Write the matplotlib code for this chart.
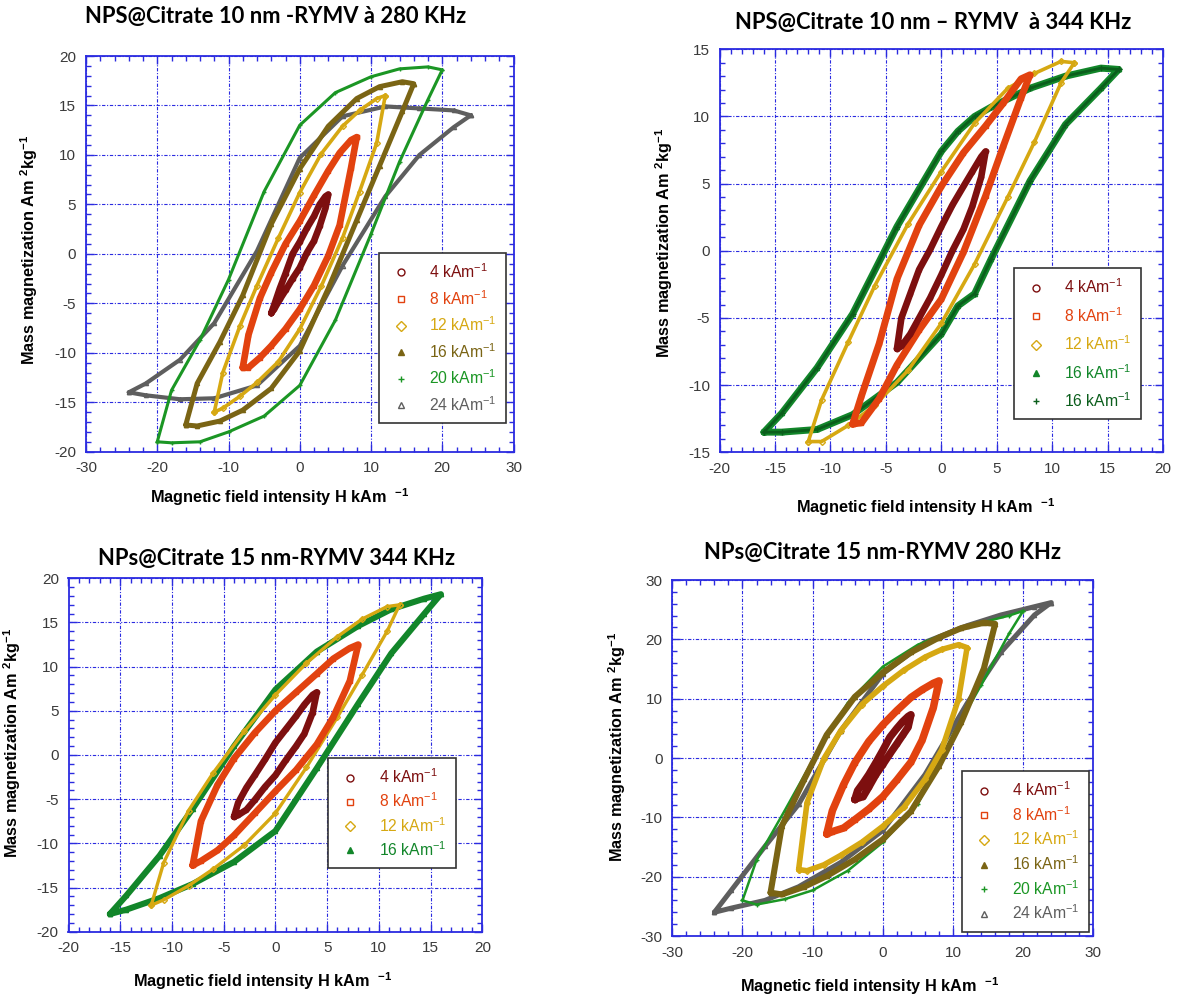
import matplotlib
matplotlib.use('Agg')
import matplotlib.pyplot as plt
from matplotlib.lines import Line2D
from matplotlib.ticker import MultipleLocator

plt.rcParams['font.family'] = ['Liberation Sans', 'DejaVu Sans']
plt.rcParams['mathtext.default'] = 'regular'
plt.rcParams['axes.unicode_minus'] = False

# ---------------- data ----------------
# field sampling points (kA/m) for each field amplitude
H4 = [-4, -3.6, -2.8, -2, -1, 0, 1, 2, 2.8, 3.6, 4]
H8 = [-8, -7.2, -5.6, -4, -2, 0, 2, 4, 5.6, 7.2, 8]
H12 = [-12, -10.8, -8.4, -6, -3, 0, 3, 6, 8.4, 10.8, 12]
H16 = [-16, -14.4, -11.2, -8, -4, 0, 4, 8, 11.2, 14.4, 16]
H16b = [-16, -14.4, -11.2, -8, -4, 0, 1.5, 3, 4.5, 8, 11.2, 14.4, 16]
H20 = [-20, -18, -14, -10, -5, 0, 5, 10, 14, 18, 20]
H24 = [-24, -21.6, -16.8, -12, -6, 0, 6, 12, 16.8, 21.6, 24]

# Panel 1 : NPS@Citrate 10 nm - 280 kHz  (up = descending branch, dn = ascending branch)
p1_up4 = [-6, -5.2, -3.5, -2, 0, 1.2, 2.6, 3.8, 5, 5.8, 6]
p1_dn4 = [-6, -5.6, -4.6, -3.7, -2.5, -1.4, 0.1, 1.3, 2.8, 4.6, 6]
p1_up8 = [-11.5, -8.2, -4.5, -1.9, 1.0, 3.3, 5.9, 8.4, 10.2, 11.5, 11.8]
p1_dn8 = [-11.5, -11.5, -10.5, -9.3, -7.6, -5.6, -3.2, -0.2, 2.9, 8.7, 11.8]
p1_up12 = [-16, -12, -7.3, -3.2, 1.6, 6.2, 10.1, 12.9, 14.5, 15.7, 16]
p1_dn12 = [-16, -15.6, -14.4, -13, -10.9, -7.6, -3.3, 1.6, 6.3, 11.2, 16]
p1_up16 = [-17.3, -13.1, -8.9, -4.2, 3.0, 8.6, 12.9, 15.7, 16.9, 17.4, 17.2]
p1_dn16 = [-17.3, -17.4, -16.9, -15.8, -13.6, -9.8, -3.5, 3.4, 8.9, 14.4, 17.2]
p1_up20 = [-19, -13.8, -8.7, -2.6, 6.3, 13, 16.3, 17.9, 18.7, 18.9, 18.6]
p1_dn20 = [-19, -19.1, -19, -18, -16.4, -13.3, -6.7, 2, 9.3, 15.6, 18.6]
p1_up24 = [-14, -13.1, -10.7, -7.0, 0.3, 9.7, 13.9, 14.9, 14.7, 14.5, 14]
p1_dn24 = [-14, -14.3, -14.7, -14.6, -13.3, -9.3, -1.2, 5.8, 10, 12.8, 14]

# Panel 2 : NPS@Citrate 10 nm - 344 kHz
p2_up4 = [-7.3, -5.0, -3.2, -1.4, 0.1, 1.8, 3.4, 4.8, 5.9, 7.0, 7.4]
p2_dn4 = [-7.3, -7.1, -6.2, -5.0, -3.5, -1.8, 0.0, 1.6, 3.3, 5.5, 7.4]
p2_up8 = [-12.9, -10.8, -6.9, -2.1, 1.9, 4.8, 7.3, 9.3, 11.0, 12.8, 13.1]
p2_dn8 = [-12.9, -12.8, -11.0, -8.5, -5.9, -3.6, -0.1, 4.1, 7.8, 11.4, 13.1]
p2_up12 = [-14.2, -11.1, -6.8, -2.6, 2.0, 5.9, 9.5, 12.1, 13.2, 14.1, 14.0]
p2_dn12 = [-14.2, -14.2, -13.0, -11.5, -8.9, -5.4, -1.0, 4.0, 8.1, 12.5, 14.0]
p2_up16 = [-13.5, -12.1, -8.7, -4.7, 1.8, 7.4, 8.9, 10.0, 10.7, 12.1, 13.0, 13.6, 13.5]
p2_dn16 = [-13.5, -13.5, -13.3, -12.2, -9.8, -6.2, -4.1, -3.2, -0.6, 5.2, 9.4, 12.1, 13.5]

# Panel 3 : NPs@Citrate 15 nm - 344 kHz
p3_up4 = [-7.0, -5.4, -3.7, -2.3, -0.5, 1.4, 2.9, 4.4, 5.7, 6.8, 7.1]
p3_dn4 = [-7.0, -6.8, -6.2, -5.1, -3.6, -2.3, -0.6, 1.0, 2.4, 4.8, 7.1]
p3_up8 = [-12.5, -7.5, -3.4, -0.4, 2.5, 5.0, 7.1, 9.2, 10.9, 12.1, 12.5]
p3_dn8 = [-12.5, -12.0, -10.8, -9.1, -6.6, -4.1, -1.7, 1.2, 4.3, 8.4, 12.5]
p3_up12 = [-17.0, -12.2, -6.3, -2.0, 2.7, 6.8, 10.4, 13.4, 15.4, 16.8, 17.0]
p3_dn12 = [-17.0, -16.4, -14.8, -12.9, -10.2, -6.6, -1.4, 4.3, 9.1, 14.0, 17.0]
p3_up16 = [-18.0, -15.9, -11.4, -6.1, 1.0, 7.4, 11.7, 14.6, 16.5, 17.7, 18.2]
p3_dn16 = [-18.0, -17.5, -16.2, -14.6, -12.1, -8.6, -1.5, 5.8, 11.5, 16.0, 18.2]

# Panel 4 : NPs@Citrate 15 nm - 280 kHz
p4_up4 = [-7.0, -5.5, -4.2, -2.8, -0.8, 1.3, 3.5, 5.0, 6.1, 7.0, 7.3]
p4_dn4 = [-7.0, -6.8, -6.5, -4.9, -2.8, -1.1, 0.7, 2.4, 3.8, 5.2, 7.3]
p4_up8 = [-12.8, -8.9, -4.5, -0.8, 2.8, 5.6, 8.0, 10.2, 11.5, 12.6, 13.0]
p4_dn8 = [-12.8, -12.4, -11.8, -10.4, -8.6, -6.5, -3.7, -0.7, 3.0, 8.5, 13.0]
p4_up12 = [-18.8, -7.5, -0.1, 4.6, 9.0, 12.1, 14.8, 17.0, 18.3, 19.1, 18.6]
p4_dn12 = [-18.8, -19.0, -18.0, -16.4, -14.2, -11.5, -8.3, -3.6, 1.4, 10.0, 18.6]
p4_up16 = [-22.7, -11.5, -3.6, 3.9, 10.3, 14.4, 17.8, 20.3, 21.9, 22.8, 22.6]
p4_dn16 = [-22.7, -23.0, -21.7, -19.9, -17.1, -13.7, -9.0, -1.3, 6.1, 15.1, 22.6]
p4_up20 = [-24.0, -17.2, -8.9, -0.4, 9.3, 15.4, 19.1, 21.5, 22.8, 24.0, 24.8]
p4_dn20 = [-24.0, -24.7, -23.8, -22.3, -19.0, -14.2, -7.7, 3.9, 12.3, 21.0, 24.8]
p4_up24 = [-26.0, -22.3, -14.9, -7.8, 4.6, 14.2, 19.5, 22.3, 24.1, 25.5, 26.2]
p4_dn24 = [-26.0, -25.3, -24.0, -21.7, -17.6, -12.2, -2.8, 9.2, 17.8, 24.1, 26.2]

labels = ['4 kAm$^{-1}$', '8 kAm$^{-1}$', '12 kAm$^{-1}$', '16 kAm$^{-1}$',
          '20 kAm$^{-1}$', '24 kAm$^{-1}$']
titles = ['NPS@Citrate 10 nm -RYMV à 280 KHz',
          'NPS@Citrate 10 nm \u2013 RYMV  à 344 KHz',
          'NPs@Citrate 15 nm-RYMV 344 KHz',
          'NPs@Citrate 15 nm-RYMV 280 KHz']
xlabel_text = 'Magnetic field intensity H kAm  $^{-1}$'
ylabel_text = 'Mass magnetization Am $^{2}$kg$^{-1}$'

# ---------------- styles ----------------
W, Hpx = 1179, 998
BLUE = '#2b2be0'
C4 = '#7d0f0f'
C8 = '#e2420f'
C12 = '#d6a812'
C16 = '#7a6414'
C20 = '#1b9624'
C24 = '#5e5e5e'
C16g = '#12862a'
C16d = '#0b5e1c'

M = {'4': ('o', True), '8': ('s', True), '12': ('D', True),
     '16': ('^', False), '20': ('+', False), '24': ('^', True)}

fig = plt.figure(figsize=(W / 100, Hpx / 100), dpi=100)


def px_axes(l, t, r, b):
    return fig.add_axes([l / W, 1 - b / Hpx, (r - l) / W, (b - t) / Hpx])


def style(ax, lim_x, lim_y, xmaj, xmin, ymaj, ymin):
    ax.set_xlim(lim_x)
    ax.set_ylim(lim_y)
    ax.xaxis.set_major_locator(MultipleLocator(xmaj))
    ax.xaxis.set_minor_locator(MultipleLocator(xmin))
    ax.yaxis.set_major_locator(MultipleLocator(ymaj))
    ax.yaxis.set_minor_locator(MultipleLocator(ymin))
    ax.set_axisbelow(True)
    ax.grid(True, which='major', color=BLUE, ls=(0, (3, 1.5, 1, 1.5)), lw=0.8)
    for s in ax.spines.values():
        s.set_color(BLUE)
        s.set_linewidth(1.3)
    ax.tick_params(which='both', direction='in', top=True, right=True,
                   color=BLUE, width=1)
    ax.tick_params(which='major', length=6, labelsize=11,
                   labelcolor='#3a3a3a', pad=7)
    ax.tick_params(which='minor', length=3.5)


def loop(ax, hs, up, dn, color, lw, key, ms=3):
    xs = list(hs) + list(hs[::-1])
    ys = list(dn) + list(up[::-1])
    mk, hollow = M[key]
    ax.plot(xs, ys, color=color, lw=lw, solid_joinstyle='round',
            solid_capstyle='round', marker=mk, ms=ms,
            mfc='none' if hollow else color, mec=color, mew=1)


def legend(ax, entries, x0, ytop, fs, spacing):
    handles = []
    for lab, col, key in entries:
        mk, hollow = M[key]
        handles.append(Line2D([], [], ls='none', marker=mk, ms=5, color=col,
                              mfc='none' if hollow else col, mec=col, mew=1,
                              label=lab))
    lg = ax.legend(handles=handles, loc='upper left', bbox_to_anchor=(x0, ytop),
                   borderaxespad=0, frameon=True, fancybox=False,
                   edgecolor='#333333', framealpha=1, fontsize=fs,
                   labelspacing=spacing, handletextpad=1.0, handlelength=1.6,
                   borderpad=0.6)
    lg.get_frame().set_linewidth(1.2)
    for t, (lab, col, key) in zip(lg.get_texts(), entries):
        t.set_color(col)
    return lg


def axis_labels(xl_c, xl_y, yl_x, yl_c):
    fig.text(xl_c / W, 1 - xl_y / Hpx, xlabel_text,
             ha='center', va='center', fontsize=11.7, fontweight='bold')
    fig.text(yl_x / W, 1 - yl_c / Hpx, ylabel_text,
             ha='center', va='center', fontsize=11.7, fontweight='bold',
             rotation=90)


TFONT = ['Lato', 'DejaVu Sans']
TSIZE = 15.8

# ---------------- panel 1 ----------------
ax1 = px_axes(86, 56, 513.5, 451.7)
style(ax1, (-30, 30), (-20, 20), 10, 2, 5, 1)
loop(ax1, H24, p1_up24, p1_dn24, C24, 3.0, '24')
loop(ax1, H20, p1_up20, p1_dn20, C20, 2.2, '20')
loop(ax1, H16, p1_up16, p1_dn16, C16, 3.6, '16')
loop(ax1, H12, p1_up12, p1_dn12, C12, 2.6, '12')
loop(ax1, H8, p1_up8, p1_dn8, C8, 4.8, '8')
loop(ax1, H4, p1_up4, p1_dn4, C4, 4.8, '4')
legend(ax1, [(labels[0], C4, '4'), (labels[1], C8, '8'), (labels[2], C12, '12'),
             (labels[3], C16, '16'), (labels[4], C20, '20'), (labels[5], C24, '24')],
       0.685, 0.5025, 11.3, 0.5)
fig.text(276 / W, 1 - 16 / Hpx, titles[0], ha='center', va='center',
         fontsize=TSIZE, fontweight='bold', family=TFONT)
axis_labels(280, 497, 29, 250)

# ---------------- panel 2 ----------------
ax2 = px_axes(719.6, 49.3, 1163, 452.3)
style(ax2, (-20, 20), (-15, 15), 5, 1, 5, 1)
loop(ax2, H16b, p2_up16, p2_dn16, C16g, 5.0, '16')
loop(ax2, H16b, p2_up16, p2_dn16, C16d, 2.0, '20', ms=5)
loop(ax2, H12, p2_up12, p2_dn12, C12, 2.6, '12')
loop(ax2, H8, p2_up8, p2_dn8, C8, 5.0, '8')
loop(ax2, H4, p2_up4, p2_dn4, C4, 4.8, '4')
legend(ax2, [(labels[0], C4, '4'), (labels[1], C8, '8'), (labels[2], C12, '12'),
             (labels[3], C16g, '16'), (labels[3], C16d, '20')],
       0.663, 0.457, 11.3, 0.62)
fig.text(933 / W, 1 - 22 / Hpx, titles[1], ha='center', va='center',
         fontsize=TSIZE, fontweight='bold', family=TFONT)
axis_labels(926, 507, 664, 243)

# ---------------- panel 3 ----------------
ax3 = px_axes(68.5, 578.3, 482.3, 931.7)
style(ax3, (-20, 20), (-20, 20), 5, 1, 5, 1)
loop(ax3, H16, p3_up16, p3_dn16, C16g, 4.4, '16')
loop(ax3, H12, p3_up12, p3_dn12, C12, 2.4, '12')
loop(ax3, H8, p3_up8, p3_dn8, C8, 4.8, '8')
loop(ax3, H4, p3_up4, p3_dn4, C4, 4.8, '4')
legend(ax3, [(labels[0], C4, '4'), (labels[1], C8, '8'), (labels[2], C12, '12'),
             (labels[3], C16g, '16')],
       0.628, 0.4915, 11.3, 0.35)
fig.text(276 / W, 1 - 558 / Hpx, titles[2], ha='center', va='center',
         fontsize=TSIZE, fontweight='bold', family=TFONT)
axis_labels(263, 981, 12, 743)

# ---------------- panel 4 ----------------
ax4 = px_axes(672.3, 580, 1093.4, 936)
style(ax4, (-30, 30), (-30, 30), 10, 2, 10, 2)
loop(ax4, H24, p4_up24, p4_dn24, C24, 3.6, '24')
loop(ax4, H20, p4_up20, p4_dn20, C20, 1.8, '20')
loop(ax4, H16, p4_up16, p4_dn16, C16, 4.4, '16')
loop(ax4, H12, p4_up12, p4_dn12, C12, 4.0, '12')
loop(ax4, H8, p4_up8, p4_dn8, C8, 5.4, '8')
loop(ax4, H4, p4_up4, p4_dn4, C4, 5.4, '4')
legend(ax4, [(labels[0], C4, '4'), (labels[1], C8, '8'), (labels[2], C12, '12'),
             (labels[3], C16, '16'), (labels[4], C20, '20'), (labels[5], C24, '24')],
       0.688, 0.4635, 11.3, 0.38)
fig.text(882 / W, 1 - 552 / Hpx, titles[3], ha='center', va='center',
         fontsize=TSIZE, fontweight='bold', family=TFONT)
axis_labels(870, 986, 617, 747)

fig.savefig('out.png', dpi=100, facecolor='white')
